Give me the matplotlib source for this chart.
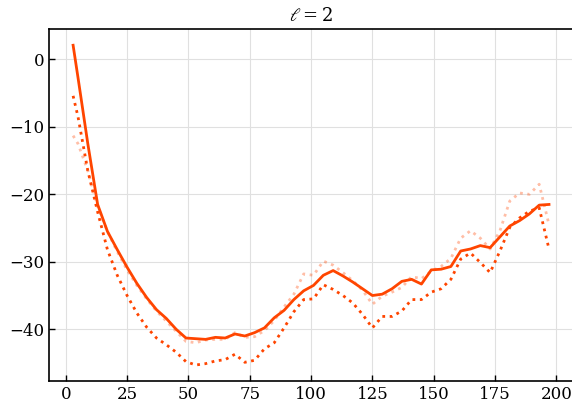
import numpy as np
import matplotlib
matplotlib.use('Agg')
import matplotlib.pyplot as plt

# multipole bins
ell = [3] + list(range(5, 198, 4))

mean_curve = [2.1, -2.7, -12.5, -21.5, -25.5, -28.2, -30.8, -33.2, -35.3, -37.1,
              -38.4, -40.0, -41.3, -41.4, -41.5, -41.2, -41.3, -40.7, -41.0, -40.5,
              -39.8, -38.3, -37.2, -35.6, -34.3, -33.5, -32.0, -31.3, -32.1, -33.0,
              -34.0, -35.0, -34.8, -34.0, -32.9, -32.6, -33.3, -31.2, -31.1, -30.7,
              -28.4, -28.1, -27.6, -27.9, -26.3, -24.7, -23.9, -22.9, -21.6, -21.5]

lower_curve = [-5.4, -8.5, -16.5, -22.6, -28.2, -32.0, -35.0, -37.6, -39.7, -41.3,
               -42.3, -43.4, -44.8, -45.3, -45.1, -44.7, -44.5, -43.7, -44.9, -44.6,
               -42.9, -42.0, -39.8, -37.4, -35.6, -35.5, -33.4, -34.1, -35.0, -36.1,
               -37.8, -39.8, -38.1, -38.1, -37.3, -35.6, -35.6, -34.5, -34.0, -32.6,
               -29.6, -28.7, -30.1, -31.6, -28.4, -24.9, -23.5, -22.5, -22.0, -28.1]

upper_curve = [-11.3, -12.5, -16.5, -21.8, -25.5, -28.5, -31.2, -33.5, -35.5, -37.3,
               -38.8, -40.3, -41.8, -42.0, -41.6, -41.5, -41.5, -40.5, -41.2, -41.1,
               -40.2, -38.7, -36.7, -34.8, -31.8, -32.0, -29.9, -30.5, -31.6, -32.8,
               -34.2, -36.3, -35.1, -34.5, -33.8, -32.2, -32.5, -31.4, -30.7, -29.5,
               -26.5, -25.4, -26.5, -28.1, -25.4, -21.0, -19.8, -20.0, -18.5, -24.5]

color = '#ff4500'

plt.rcParams['font.family'] = 'DejaVu Serif'
plt.rcParams['mathtext.fontset'] = 'dejavuserif'

fig = plt.figure(figsize=(5.72, 4.07), dpi=100)
ax = fig.add_axes([0.0862, 0.0639, 0.9152, 0.8642])

ax.plot(ell, upper_curve, color=color, lw=2, ls=':', alpha=0.35)
ax.plot(ell, lower_curve, color=color, lw=2, ls=':')
ax.plot(ell, mean_curve, color=color, lw=2)

ax.set_xticks([0, 25, 50, 75, 100, 125, 150, 175, 200])
ax.set_yticks([0, -10, -20, -30, -40])
ax.grid(True, color='#e0e0e0', lw=0.8)
ax.set_axisbelow(True)
ax.tick_params(direction='in', labelsize=12, length=4, width=1)
for s in ax.spines.values():
    s.set_linewidth(1.2)
ax.set_title(r'$\ell = 2$', fontsize=13)

fig.savefig('out.png', dpi=100)
